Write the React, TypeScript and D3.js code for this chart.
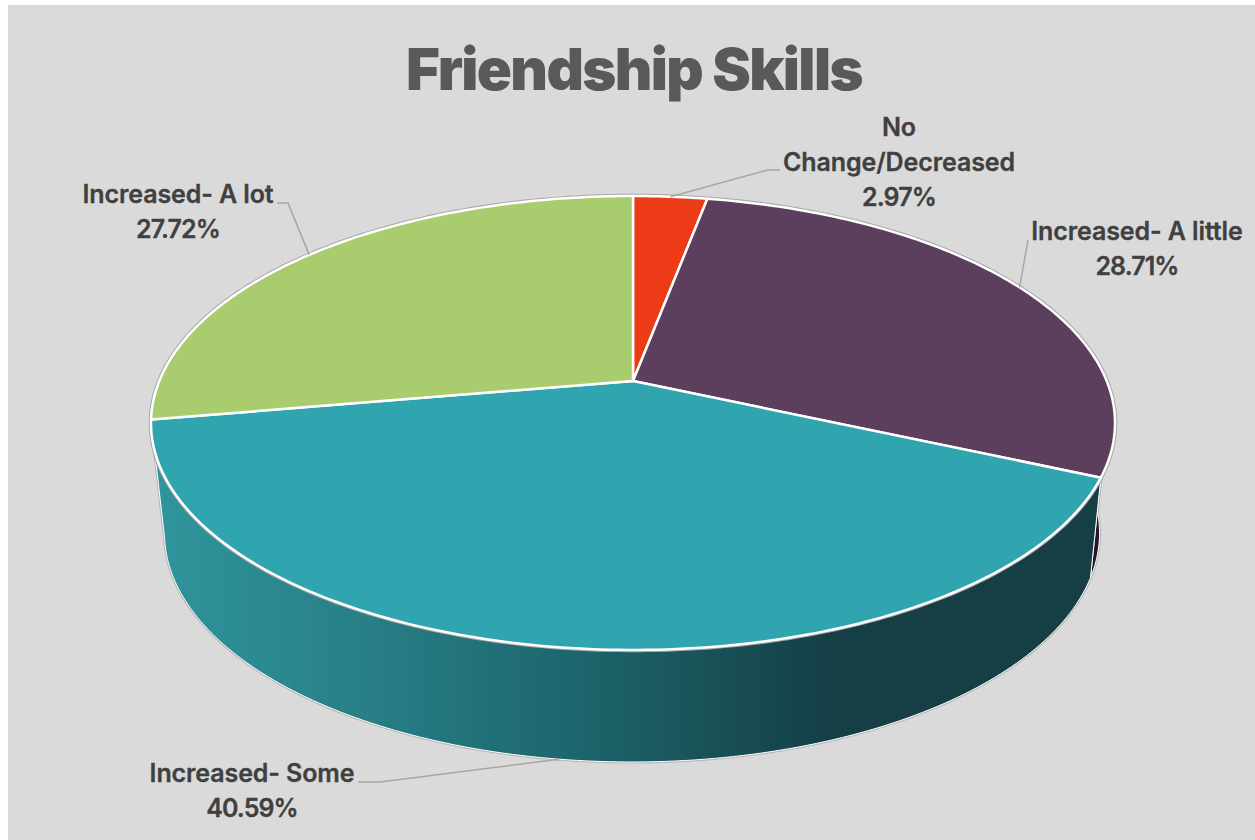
import * as d3 from 'd3';

const categories = ['No Change/Decreased', 'Increased- A little', 'Increased- Some', 'Increased- A lot'];
const shares = [2.97, 28.71, 40.59, 27.72];
const labelLines = [['No', 'Change/Decreased', '2.97%'], ['Increased- A little', '28.71%'], ['Increased- Some', '40.59%'], ['Increased- A lot', '27.72%']];
const topColors = ['#ec3b16', '#5c3f5c', '#30a5af', '#a9cd6e'];
const sideColors = ['#7a1e0b', '#24162a', 'url(#tealSide)', '#5a6e3a'];

const WIDTH = 1255;
const HEIGHT = 840;

// the pie is drawn in perspective, each rim is a circle through a projective map
type Rim = { cx: number; cy: number; a: number; b: number; k: number };
const topRim: Rim = { cx: 633, cy: 381, a: 473.7, b: 219.2, k: 0.185 };
const lowRim: Rim = { cx: 632, cy: 480.3, a: 455, b: 216.9, k: 0.23 };

const project = (rim: Rim, angle: number): [number, number] => {
  const u = Math.sin(angle);
  const v = Math.cos(angle);
  const d = 1 + rim.k * v;
  return [rim.cx + (rim.a * u) / d, rim.cy - (rim.b * v) / d];
};

const samples = (a0: number, a1: number) => {
  const n = Math.max(2, Math.ceil((a1 - a0) * 60));
  return d3.range(n + 1).map(i => a0 + ((a1 - a0) * i) / n);
};

const line = d3.line<[number, number]>();

const slices = d3.pie<number>().sort(null)(shares);

// left silhouette of the wall: the lower rim stops where the edge runs tangent to it
const leftTangent = 4.46;

// leader line of each label: where the elbow and the label end sit
const leaders: { rim: Rim; elbow: [number, number]; end: [number, number] }[] = [
  { rim: topRim, elbow: [768, 170], end: [780, 170] },
  { rim: topRim, elbow: [1028, 240], end: [1028, 240] },
  { rim: lowRim, elbow: [380, 782], end: [358, 782] },
  { rim: topRim, elbow: [288, 203], end: [277, 203] },
];
const labelPos: [number, number][] = [[899, 136], [1137, 240], [252, 782], [178, 203]];
const LINE_GAP = 35;

const gradientStops: [number, string][] = [
  [0, '#2f959c'],
  [0.22, '#287f86'],
  [0.45, '#1d656c'],
  [0.72, '#153e45'],
  [1, '#153e45'],
];

export default function App() {
  const sides = slices.map(s => {
    const arc = samples(s.startAngle, s.endAngle);
    const low = samples(s.startAngle, s.endAngle > leftTangent && s.startAngle < leftTangent ? leftTangent : s.endAngle);
    const pts = [...arc.map(t => project(topRim, t)), ...low.slice().reverse().map(t => project(lowRim, t))];
    return line(pts) + 'Z';
  });
  const tops = slices.map(s => {
    const pts = samples(s.startAngle, s.endAngle).map(t => project(topRim, t));
    return line([[topRim.cx, topRim.cy], ...pts]) + 'Z';
  });
  // back walls first, the top faces cover whatever faces away
  const order = [0, 3, 1, 2];

  return (
    <svg
      width={WIDTH}
      height={HEIGHT}
      style={{ position: 'absolute', left: 0, top: 0, display: 'block', background: '#fff' }}
    >
      <defs>
        <linearGradient id="tealSide" gradientUnits="userSpaceOnUse" x1={155} x2={1100} y1={0} y2={0}>
          {gradientStops.map(([o, c]) => <stop key={o} offset={o} stopColor={c} />)}
        </linearGradient>
      </defs>
      <rect x={8} y={5} width={WIDTH - 8} height={HEIGHT - 5} fill="#dadada" />

      <text
        x={634}
        y={90}
        textAnchor="middle"
        fontFamily="Inter, sans-serif"
        fontWeight={900}
        fontSize={58}
        letterSpacing={-1.6}
        fill="#595959"
      >
        Friendship Skills
      </text>

      {order.map(i => (
        <path key={categories[i]} d={sides[i]} fill={sideColors[i]} stroke="#b5b5b5" strokeWidth={3} />
      ))}
      {order.map(i => (
        <path key={categories[i]} d={sides[i]} fill={sideColors[i]} stroke="#fff" strokeWidth={1} />
      ))}
      <path
        d={line(samples(0, Math.PI * 2).map(t => project(topRim, t))) + 'Z'}
        fill="none"
        stroke="#a8a8a8"
        strokeWidth={4.5}
      />
      {tops.map((d, i) => (
        <path key={categories[i]} d={d} fill={topColors[i]} stroke="#fff" strokeWidth={2.5} strokeLinejoin="round" />
      ))}

      {slices.map((s, i) => {
        const mid = (s.startAngle + s.endAngle) / 2;
        const l = leaders[i];
        return (
          <path
            key={categories[i]}
            d={line([project(l.rim, mid), l.elbow, l.end]) ?? undefined}
            fill="none"
            stroke="#a6a6a6"
            strokeWidth={1.5}
          />
        );
      })}

      {labelLines.map((lines, i) => (
        <text
          key={categories[i]}
          textAnchor="middle"
          fontFamily="Inter, sans-serif"
          fontWeight={600}
          fontSize={25}
          fill="#404040"
          stroke="#404040"
          strokeWidth={0.3}
        >
          {lines.map((t, j) => (
            <tspan
              key={t}
              x={labelPos[i][0]}
              y={labelPos[i][1] + j * LINE_GAP}
              letterSpacing={t.endsWith('%') ? -0.9 : -0.1}
            >
              {t}
            </tspan>
          ))}
        </text>
      ))}
    </svg>
  );
}
